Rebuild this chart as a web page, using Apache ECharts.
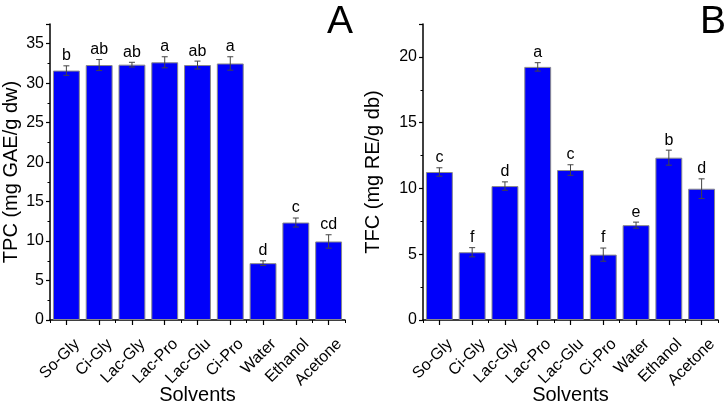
<!DOCTYPE html>
<html>
<head>
<meta charset="utf-8">
<script src="https://cdn.jsdelivr.net/npm/echarts@6/dist/echarts.min.js"></script>
<style>html,body{margin:0;padding:0;background:#fff;}#c{width:724px;height:405px;}</style>
</head>
<body>
<div id="c"></div>
<script>
const categories = ['So-Gly','Ci-Gly','Lac-Gly','Lac-Pro','Lac-Glu','Ci-Pro','Water','Ethanol','Acetone'];
const tpcValues = [31.6, 32.3, 32.35, 32.65, 32.3, 32.5, 7.2, 12.35, 9.95];
const tpcErrors = [0.6, 0.7, 0.3, 0.7, 0.5, 0.85, 0.3, 0.57, 0.85];
const tpcLetters = ['b','ab','ab','a','ab','a','d','c','cd'];
const tfcValues = [11.25, 5.15, 10.18, 19.24, 11.4, 4.97, 7.21, 12.34, 9.98];
const tfcErrors = [0.32, 0.35, 0.32, 0.32, 0.4, 0.5, 0.23, 0.57, 0.75];
const tfcLetters = ['c','f','d','a','c','f','e','b','d'];

const FONT = '"Liberation Sans", Arial, sans-serif';
const chart = echarts.init(document.getElementById('c'), null, {renderer:'canvas'});

function errRender(letters){
  return function(params, api){
    const i = api.value(0), v = api.value(1), e = api.value(2);
    const top = api.coord([i, v + e]);
    const bot = api.coord([i, v - e]);
    const x = top[0];
    const hw = 3;
    const st = {stroke:'#444', lineWidth:1};
    return {type:'group', children:[
      {type:'line', shape:{x1:x, y1:top[1], x2:x, y2:bot[1]}, style:st},
      {type:'line', shape:{x1:x-hw, y1:top[1], x2:x+hw, y2:top[1]}, style:st},
      {type:'line', shape:{x1:x-hw, y1:bot[1], x2:x+hw, y2:bot[1]}, style:st},
      {type:'text', style:{text:letters[params.dataIndex], x:x, y:top[1]-2, align:'center', verticalAlign:'bottom', font:'16px ' + FONT, fill:'#000'}}
    ]};
  };
}

function yAxisCfg(gi, max, name, gap){
  return {
    type:'value', gridIndex:gi, min:0, max:max, interval:5,
    name:name, nameLocation:'middle', nameGap:gap, nameMoveOverlap:false,
    nameTextStyle:{fontFamily:FONT, fontSize:20, color:'#000'},
    axisLine:{show:true, lineStyle:{color:'#000', width:1.5}},
    axisTick:{show:true, length:4, lineStyle:{color:'#000', width:1.2}},
    minorTick:{show:true, splitNumber:2, length:2.5, lineStyle:{color:'#000', width:1}},
    splitLine:{show:false},
    axisLabel:{fontFamily:FONT, fontSize:16, color:'#000', margin:6, showMaxLabel:false,
      formatter:function(v){ return (v % 5 === 0) ? String(v) : ''; }}
  };
}
function xAxisMain(gi){
  return {
    type:'category', gridIndex:gi, data:categories, boundaryGap:true,
    name:'Solvents', nameLocation:'middle', nameGap:65, nameMoveOverlap:false,
    nameTextStyle:{fontFamily:FONT, fontSize:20, color:'#000'},
    axisLine:{show:true, lineStyle:{color:'#000', width:1.5}},
    axisTick:{show:true, alignWithLabel:true, length:5, lineStyle:{color:'#000', width:1.2}},
    axisLabel:{fontFamily:FONT, fontSize:16, color:'#000', rotate:45, margin:11, interval:0,
      verticalAlign:'top', lineHeight:30}
  };
}
function xAxisMinor(gi){
  return {
    type:'category', gridIndex:gi, data:categories, boundaryGap:true, position:'bottom',
    axisLine:{show:false},
    axisTick:{show:true, alignWithLabel:false, length:3, lineStyle:{color:'#000', width:1}},
    axisLabel:{show:false}
  };
}
function barSeries(xi, yi, vals){
  return {type:'bar', xAxisIndex:xi, yAxisIndex:yi, data:vals, barCategoryGap:'18%',
    itemStyle:{color:'#0000FA', borderColor:'#8a8a8a', borderWidth:1}};
}
function errSeries(xi, yi, vals, errs, letters){
  return {type:'custom', xAxisIndex:xi, yAxisIndex:yi, z:5,
    data:vals.map((v,i)=>[i, v, errs[i]]), renderItem:errRender(letters),
    encode:{x:0, y:1}};
}

chart.setOption({
  animation:false,
  backgroundColor:'#fff',
  title:[
    {text:'A', left:322, top:-2, textStyle:{fontFamily:FONT, fontSize:39, fontWeight:'normal', color:'#000'}},
    {text:'B', left:695, top:-2, textStyle:{fontFamily:FONT, fontSize:39, fontWeight:'normal', color:'#000'}}
  ],
  grid:[
    {left:50, top:24, width:295, height:296, containLabel:false, outerBoundsMode:'none'},
    {left:423, top:24, width:295, height:296, containLabel:false, outerBoundsMode:'none'}
  ],
  xAxis:[xAxisMain(0), xAxisMinor(0), xAxisMain(1), xAxisMinor(1)],
  yAxis:[yAxisCfg(0, 37.5, 'TPC (mg GAE/g dw)', 29), yAxisCfg(1, 22.5, 'TFC (mg RE/g db)', 40)],
  series:[
    barSeries(0, 0, tpcValues),
    errSeries(0, 0, tpcValues, tpcErrors, tpcLetters),
    barSeries(2, 1, tfcValues),
    errSeries(2, 1, tfcValues, tfcErrors, tfcLetters)
  ]
});
</script>
</body>
</html>
